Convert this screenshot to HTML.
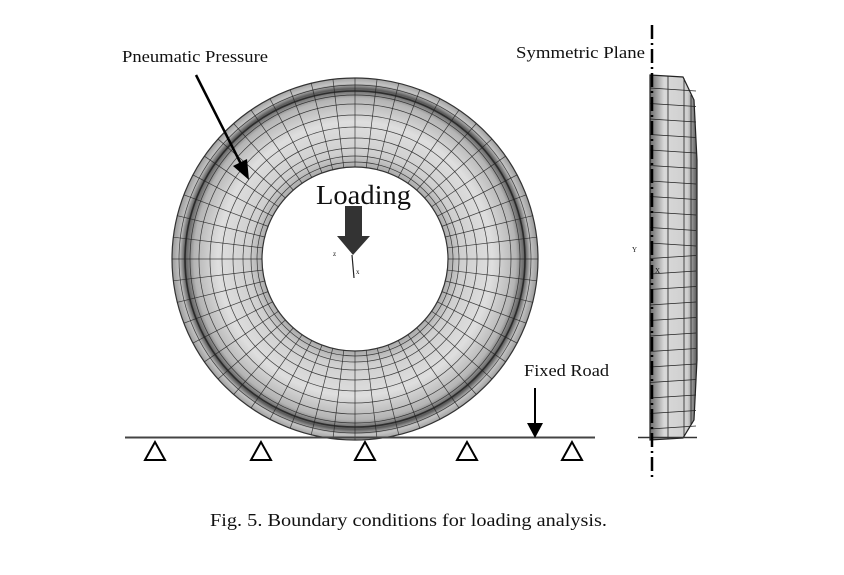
<!DOCTYPE html>
<html><head><meta charset="utf-8"><style>
html,body{margin:0;padding:0;background:#fff;}
svg{display:block;}
text{font-family:"Liberation Serif",serif;fill:#111;}
</style></head><body>
<svg width="844" height="575" viewBox="0 0 844 575" xmlns="http://www.w3.org/2000/svg">
<defs>
<radialGradient id="tg" cx="355" cy="259" r="183" gradientUnits="userSpaceOnUse">
<stop offset="0.5" stop-color="#a8a8a8"/>
<stop offset="0.58" stop-color="#cfcfcf"/>
<stop offset="0.75" stop-color="#dedede"/>
<stop offset="0.88" stop-color="#b4b4b4"/>
<stop offset="0.93" stop-color="#5a5a5a"/>
<stop offset="0.96" stop-color="#c4c4c4"/>
<stop offset="1" stop-color="#9a9a9a"/>
</radialGradient>
<linearGradient id="sg" x1="0" x2="1" y1="0" y2="0">
<stop offset="0" stop-color="#6a6a6a"/>
<stop offset="0.3" stop-color="#d8d8d8"/>
<stop offset="0.8" stop-color="#cfcfcf"/>
<stop offset="1" stop-color="#555"/>
</linearGradient>
</defs>
<path d="M172,259a183,181 0 1,0 366,0a183,181 0 1,0 -366,0Z M262,259a93,92 0 1,0 186,0a93,92 0 1,0 -186,0Z" fill="url(#tg)" fill-rule="evenodd" stroke="#333" stroke-width="1.2"/>
<g fill="none" stroke="#222" stroke-width="0.7" opacity="0.85">
<ellipse cx="355" cy="259" rx="98" ry="97"/>
<ellipse cx="355" cy="259" rx="104" ry="103"/>
<ellipse cx="355" cy="259" rx="112" ry="111"/>
<ellipse cx="355" cy="259" rx="122" ry="121"/>
<ellipse cx="355" cy="259" rx="133" ry="132"/>
<ellipse cx="355" cy="259" rx="145" ry="144"/>
<ellipse cx="355" cy="259" rx="156" ry="155"/>
<ellipse cx="355" cy="259" rx="165" ry="164"/>
<ellipse cx="355" cy="259" rx="170" ry="168" stroke-width="1.6"/>
<ellipse cx="355" cy="259" rx="176" ry="174"/>
</g>
<g stroke="#222" stroke-width="0.7" opacity="0.85" id="spokes"></g>
<line x1="196" y1="75" x2="242" y2="166" stroke="#000" stroke-width="2.5"/>
<polygon points="249,180 233,166 247,159" fill="#000"/>
<rect x="345" y="206" width="17" height="30" fill="#333"/>
<polygon points="337,236 370,236 353,255" fill="#333"/>
<line x1="352" y1="255" x2="354" y2="278" stroke="#222" stroke-width="1.2"/>
<text x="333" y="256" font-size="7" fill="#888">z</text>
<text x="356" y="274" font-size="7">x</text>
<text x="316" y="204" font-size="27" textLength="95" lengthAdjust="spacingAndGlyphs">Loading</text>
<text x="122" y="62" font-size="17" textLength="146" lengthAdjust="spacingAndGlyphs">Pneumatic Pressure</text>
<text x="516" y="58" font-size="17" textLength="129" lengthAdjust="spacingAndGlyphs">Symmetric Plane</text>
<text x="524" y="376" font-size="17" textLength="85" lengthAdjust="spacingAndGlyphs">Fixed Road</text>
<text x="210" y="526" font-size="18" textLength="397" lengthAdjust="spacingAndGlyphs">Fig. 5. Boundary conditions for loading analysis.</text>
<line x1="125" y1="437.5" x2="595" y2="437.5" stroke="#444" stroke-width="2"/>
<g fill="#fff" stroke="#000" stroke-width="2">
<polygon points="155,442 145,460 165,460"/>
<polygon points="261,442 251,460 271,460"/>
<polygon points="365,442 355,460 375,460"/>
<polygon points="467,442 457,460 477,460"/>
<polygon points="572,442 562,460 582,460"/>
</g>
<line x1="535" y1="388" x2="535" y2="424" stroke="#000" stroke-width="2"/>
<polygon points="527,423 543,423 535,438" fill="#000"/>
<path d="M650,75 L683,77 L694,100 L697,160 L697,360 L694,420 L683,438 L650,440 Z" fill="url(#sg)" stroke="#222" stroke-width="1.2"/>
<g stroke="#222" stroke-width="0.8" fill="none" id="side">
<line x1="668" y1="76" x2="668" y2="439"/>
<line x1="684" y1="78" x2="684" y2="437"/>
<line x1="691" y1="95" x2="691" y2="425"/>
</g>
<line x1="638" y1="437.5" x2="697" y2="437.5" stroke="#333" stroke-width="1.5"/>
<line x1="652" y1="25" x2="652" y2="478" stroke="#000" stroke-width="2.5" stroke-dasharray="14,4,2,4"/>
<text x="632" y="252" font-size="7" fill="#999">Y</text>
<text x="655" y="273" font-size="7">X</text>
<script>
var g=document.getElementById('spokes'),ns='http://www.w3.org/2000/svg';
for(var i=0;i<52;i++){var a=i*Math.PI*2/52,c=Math.cos(a),s=Math.sin(a);
var l=document.createElementNS(ns,'line');
l.setAttribute('x1',355+93*c);l.setAttribute('y1',259+92*s);
l.setAttribute('x2',355+183*c);l.setAttribute('y2',259+181*s);g.appendChild(l);}
var sd=document.getElementById('side');
for(var y=88;y<440;y+=15.5){var l=document.createElementNS(ns,'line');
l.setAttribute('x1',650);l.setAttribute('y1',y);l.setAttribute('x2',696);l.setAttribute('y2',y+(y<258?3:-3));sd.appendChild(l);}
</script>
</svg>
</body></html>
